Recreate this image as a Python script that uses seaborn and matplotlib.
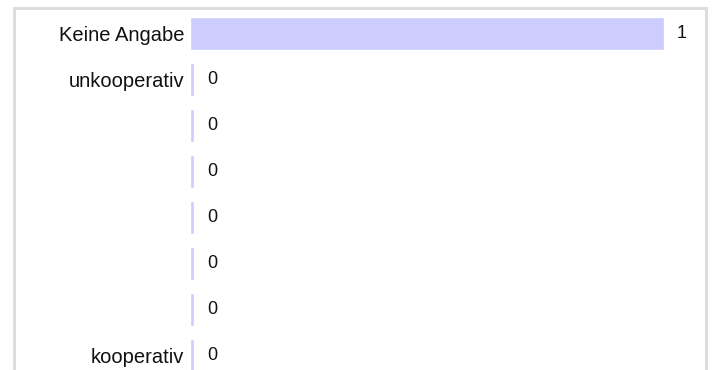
import numpy as np
import pandas as pd
import matplotlib
matplotlib.use("Agg")
import matplotlib.pyplot as plt
from matplotlib.patches import Rectangle
import seaborn as sns

categories = ["Keine Angabe", "unkooperativ", " ", "  ", "   ", "    ", "     ", "kooperativ"]
values = [1, 0, 0, 0, 0, 0, 0, 0]
value_labels = ["1", "0", "0", "0", "0", "0", "0", "0"]

sns.set_style("white")
plt.rcParams["font.family"] = ["Liberation Sans", "DejaVu Sans"]

W, H = 712, 370
fig = plt.figure(figsize=(W / 100, H / 100), dpi=100)

# frame around chart
fig.patches.append(Rectangle((13.5 / W, -0.1), (705.5 - 13.5) / W, (H - 7.5) / H + 0.1,
                             transform=fig.transFigure, fill=False,
                             edgecolor="#dddddd", linewidth=3 * 72 / 100))

left_px, right_px = 190, 700
unit_px = 664 - 190
top_px, bot_px = 10, 370
ax = fig.add_axes([left_px / W, 1 - bot_px / H, (right_px - left_px) / W, (bot_px - top_px) / H])

stub = 4 / unit_px
disp = np.maximum(np.array(values, dtype=float), stub)
df = pd.DataFrame({"cat": categories, "val": disp})
sns.barplot(data=df, x="val", y="cat", orient="h", color="#ccccff", saturation=1,
            width=33 / 46, ax=ax, order=categories)

ax.set_xlim(0, (right_px - left_px) / unit_px)
y0 = (top_px - 33) / 46
y1 = (bot_px - 33) / 46
ax.set_ylim(y1, y0)
for s in ax.spines.values():
    s.set_visible(False)
ax.set_xticks([])
ax.set_xlabel("")
ax.set_ylabel("")
ax.tick_params(axis="y", length=0, pad=4, labelsize=14.5, labelcolor="#111111")

for i, (v, lab) in enumerate(zip(disp, value_labels)):
    ax.annotate(lab, xy=(v, i), xytext=(13, 0), textcoords="offset pixels",
                va="center", ha="left", fontsize=13, color="#111111")

fig.savefig("out.png", dpi=100)
